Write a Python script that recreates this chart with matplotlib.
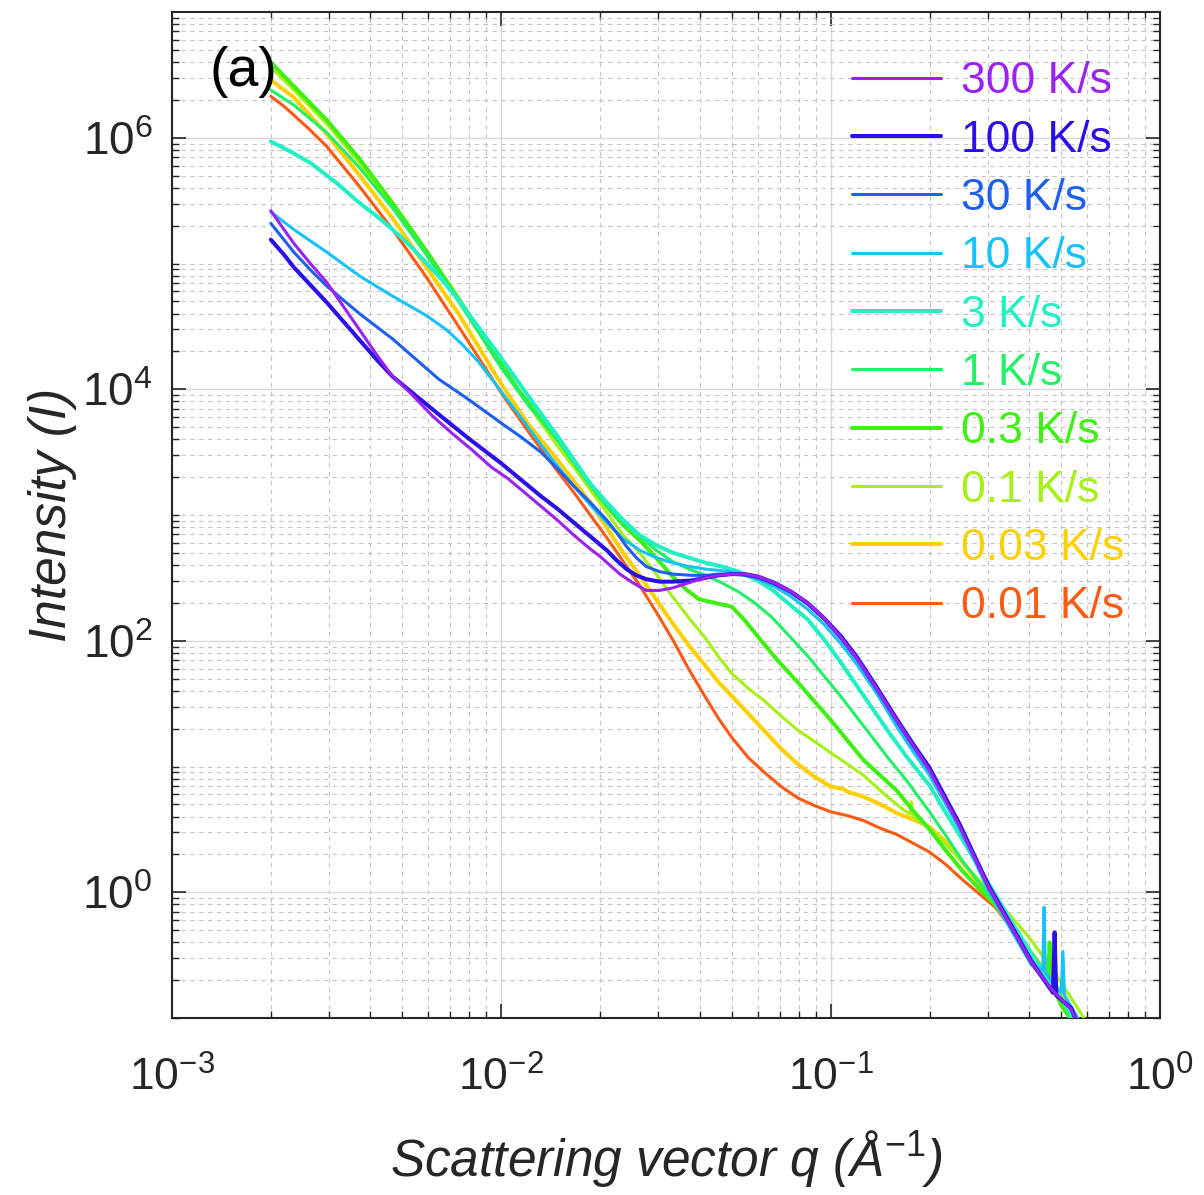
import numpy as np
import matplotlib
matplotlib.use("Agg")
import matplotlib.pyplot as plt
from matplotlib.ticker import FixedLocator, FuncFormatter, NullFormatter

plt.rcParams['font.family'] = ['Liberation Sans', 'DejaVu Sans']
plt.rcParams['mathtext.fontset'] = 'custom'
plt.rcParams['mathtext.rm'] = 'Liberation Sans'
plt.rcParams['mathtext.it'] = 'Liberation Sans:italic'

# ---- data: log10(q) and log10(I) ----
labels = ['300 K/s', '100 K/s', '30 K/s', '10 K/s', '3 K/s', '1 K/s',
          '0.3 K/s', '0.1 K/s', '0.03 K/s', '0.01 K/s']
colors = ['#9b22f2', '#2a10e6', '#1f5fee', '#16c2f8', '#22f0c4', '#22f066',
          '#3ff012', '#a6f014', '#ffd000', '#ff5a12']
widths = [2.2, 2.9, 2.2, 2.2, 2.9, 2.2, 2.9, 2.2, 2.9, 2.2]

lq_300 = [-2.70, -2.66, -2.63, -2.58, -2.53, -2.48, -2.43, -2.38, -2.33, -2.28, -2.21, -2.15, -2.09, -2.03,
          -1.98, -1.93, -1.88, -1.83, -1.78, -1.73, -1.70, -1.67, -1.64, -1.60, -1.56, -1.52, -1.48, -1.42,
          -1.38, -1.34, -1.30, -1.26, -1.22, -1.17, -1.12, -1.07, -1.02, -0.97, -0.92, -0.86, -0.80, -0.75,
          -0.70, -0.61, -0.52, -0.45, -0.39, -0.33, -0.27, -0.25]
lI_300 = [5.42, 5.27, 5.16, 5.00, 4.85, 4.66, 4.47, 4.28, 4.10, 3.98, 3.79, 3.65, 3.52, 3.38,
          3.29, 3.18, 3.07, 2.96, 2.84, 2.73, 2.67, 2.60, 2.53, 2.46, 2.40, 2.40, 2.42, 2.47,
          2.50, 2.52, 2.53, 2.53, 2.51, 2.46, 2.39, 2.30, 2.18, 2.03, 1.86, 1.62, 1.37, 1.17,
          0.97, 0.53, 0.04, -0.28, -0.56, -0.77, -0.93, -1.05]

lq_100 = [-2.70, -2.66, -2.63, -2.58, -2.53, -2.48, -2.43, -2.38, -2.33, -2.26, -2.19, -2.10, -2.00, -1.94,
          -1.88, -1.83, -1.78, -1.73, -1.68, -1.65, -1.62, -1.59, -1.56, -1.52, -1.48, -1.42, -1.38, -1.34,
          -1.30, -1.26, -1.22, -1.17, -1.12, -1.07, -1.02, -0.97, -0.92, -0.86, -0.80, -0.75, -0.70, -0.61,
          -0.52, -0.45, -0.39, -0.325, -0.32, -0.315, -0.27, -0.25]
lI_100 = [5.19, 5.07, 4.97, 4.83, 4.69, 4.54, 4.39, 4.24, 4.10, 3.95, 3.80, 3.61, 3.41, 3.28,
          3.15, 3.05, 2.94, 2.83, 2.72, 2.64, 2.57, 2.52, 2.49, 2.47, 2.47, 2.48, 2.50, 2.52,
          2.53, 2.53, 2.51, 2.46, 2.39, 2.30, 2.18, 2.04, 1.87, 1.63, 1.38, 1.18, 0.99, 0.55,
          0.05, -0.27, -0.55, -0.80, -0.32, -0.82, -0.92, -1.05]

lq_30 = [-2.70, -2.63, -2.58, -2.53, -2.48, -2.43, -2.38, -2.33, -2.26, -2.19, -2.10, -2.00, -1.94, -1.88,
         -1.83, -1.78, -1.73, -1.68, -1.65, -1.62, -1.59, -1.56, -1.52, -1.48, -1.42, -1.38, -1.34, -1.30,
         -1.26, -1.22, -1.17, -1.12, -1.07, -1.02, -0.97, -0.92, -0.86, -0.80, -0.75, -0.70, -0.61, -0.52,
         -0.45, -0.39, -0.33, -0.27, -0.25]
lI_30 = [5.32, 5.09, 4.95, 4.82, 4.71, 4.60, 4.50, 4.40, 4.24, 4.08, 3.92, 3.73, 3.62, 3.50,
         3.37, 3.23, 3.10, 2.96, 2.86, 2.75, 2.66, 2.59, 2.55, 2.53, 2.52, 2.52, 2.53, 2.53,
         2.52, 2.50, 2.45, 2.38, 2.29, 2.17, 2.02, 1.85, 1.61, 1.36, 1.16, 0.97, 0.54, 0.03,
         -0.29, -0.57, -0.78, -0.93, -1.05]

lq_10 = [-2.70, -2.63, -2.53, -2.43, -2.33, -2.23, -2.17, -2.12, -2.07, -2.02, -1.98, -1.93, -1.88, -1.83,
         -1.78, -1.73, -1.68, -1.63, -1.58, -1.53, -1.48, -1.43, -1.38, -1.34, -1.30, -1.26, -1.22, -1.17,
         -1.12, -1.07, -1.02, -0.97, -0.92, -0.86, -0.80, -0.75, -0.70, -0.61, -0.52, -0.45, -0.39, -0.356,
         -0.352, -0.348, -0.30, -0.295, -0.29, -0.26, -0.24]
lI_10 = [5.41, 5.27, 5.09, 4.90, 4.74, 4.59, 4.48, 4.36, 4.22, 4.05, 3.91, 3.74, 3.56, 3.39,
         3.23, 3.08, 2.94, 2.81, 2.72, 2.66, 2.62, 2.59, 2.57, 2.56, 2.55, 2.53, 2.49, 2.43,
         2.35, 2.25, 2.13, 1.98, 1.81, 1.58, 1.32, 1.12, 0.93, 0.51, 0.01, -0.31, -0.58, -0.62,
         -0.12, -0.64, -0.80, -0.47, -0.82, -0.95, -1.05]

lq_3 = [-2.70, -2.64, -2.58, -2.50, -2.43, -2.38, -2.33, -2.28, -2.23, -2.18, -2.13, -2.08, -2.02, -1.96,
        -1.90, -1.83, -1.78, -1.73, -1.68, -1.63, -1.58, -1.53, -1.48, -1.43, -1.38, -1.33, -1.28, -1.23,
        -1.18, -1.13, -1.07, -1.02, -0.97, -0.92, -0.87, -0.82, -0.77, -0.70, -0.65, -0.60, -0.55, -0.50,
        -0.45, -0.40, -0.35, -0.30, -0.26]
lI_3 = [5.97, 5.89, 5.80, 5.64, 5.48, 5.38, 5.27, 5.15, 5.01, 4.87, 4.71, 4.53, 4.32, 4.10,
        3.88, 3.63, 3.44, 3.25, 3.10, 2.96, 2.84, 2.76, 2.70, 2.66, 2.62, 2.59, 2.55, 2.49,
        2.41, 2.30, 2.17, 2.01, 1.83, 1.64, 1.45, 1.26, 1.08, 0.85, 0.63, 0.42, 0.20, -0.02,
        -0.24, -0.45, -0.65, -0.84, -1.02]

lq_1 = [-2.70, -2.63, -2.53, -2.43, -2.33, -2.23, -2.13, -2.06, -2.00, -1.92, -1.83, -1.78, -1.73, -1.68,
        -1.63, -1.58, -1.53, -1.48, -1.43, -1.38, -1.33, -1.28, -1.23, -1.18, -1.13, -1.07, -1.02, -0.97,
        -0.92, -0.87, -0.82, -0.77, -0.70, -0.65, -0.60, -0.55, -0.50, -0.45, -0.40, -0.35, -0.30, -0.26]
lI_1 = [6.38, 6.26, 6.04, 5.76, 5.44, 5.08, 4.70, 4.42, 4.17, 3.88, 3.60, 3.42, 3.24, 3.08,
        2.94, 2.83, 2.72, 2.63, 2.57, 2.52, 2.46, 2.39, 2.30, 2.19, 2.05, 1.88, 1.72, 1.56,
        1.39, 1.22, 1.05, 0.89, 0.64, 0.45, 0.25, 0.08, -0.08, -0.26, -0.45, -0.65, -0.85, -1.02]

lq_03 = [-2.70, -2.63, -2.53, -2.43, -2.33, -2.23, -2.13, -2.02, -1.95, -1.89, -1.83, -1.78, -1.73, -1.68,
         -1.63, -1.58, -1.53, -1.48, -1.44, -1.40, -1.35, -1.30, -1.26, -1.22, -1.16, -1.10, -1.05, -1.00,
         -0.95, -0.90, -0.85, -0.80, -0.75, -0.70, -0.65, -0.60, -0.55, -0.50, -0.45, -0.40, -0.34, -0.335,
         -0.33, -0.30, -0.26]
lI_03 = [6.60, 6.41, 6.14, 5.83, 5.48, 5.11, 4.72, 4.29, 4.00, 3.80, 3.60, 3.42, 3.24, 3.07,
         2.92, 2.80, 2.66, 2.51, 2.41, 2.33, 2.30, 2.27, 2.16, 2.03, 1.84, 1.67, 1.52, 1.37,
         1.21, 1.05, 0.93, 0.81, 0.65, 0.50, 0.33, 0.17, 0.03, -0.10, -0.27, -0.45, -0.68, -0.40,
         -0.70, -0.90, -1.05]

lq_01 = [-2.70, -2.63, -2.53, -2.43, -2.33, -2.23, -2.13, -2.02, -1.92, -1.83, -1.78, -1.73, -1.68, -1.63,
         -1.58, -1.53, -1.48, -1.43, -1.38, -1.34, -1.30, -1.25, -1.20, -1.15, -1.10, -1.05, -1.00, -0.95,
         -0.90, -0.85, -0.80, -0.76, -0.755, -0.75, -0.70, -0.65, -0.60, -0.55, -0.50, -0.45, -0.40, -0.35,
         -0.30, -0.25, -0.22]
lI_01 = [6.56, 6.38, 6.11, 5.80, 5.45, 5.08, 4.70, 4.25, 3.88, 3.55, 3.38, 3.20, 3.02, 2.84,
         2.70, 2.53, 2.35, 2.18, 2.02, 1.87, 1.74, 1.62, 1.52, 1.40, 1.29, 1.20, 1.11, 1.02,
         0.93, 0.81, 0.70, 0.62, 0.72, 0.60, 0.51, 0.38, 0.24, 0.10, -0.05, -0.20, -0.35, -0.53,
         -0.72, -0.92, -1.05]

lq_003 = [-2.70, -2.63, -2.53, -2.43, -2.33, -2.23, -2.13, -2.00, -1.92, -1.83, -1.78, -1.73, -1.68, -1.63,
          -1.58, -1.53, -1.48, -1.43, -1.38, -1.34, -1.30, -1.25, -1.20, -1.15, -1.10, -1.05, -1.00, -0.96,
          -0.95, -0.90, -0.85, -0.80, -0.75, -0.70, -0.65, -0.60, -0.55, -0.50, -0.45, -0.40, -0.35, -0.30,
          -0.26]
lI_003 = [6.46, 6.32, 6.03, 5.70, 5.36, 4.98, 4.60, 4.04, 3.73, 3.44, 3.27, 3.10, 2.90, 2.70,
          2.52, 2.33, 2.14, 1.96, 1.80, 1.67, 1.56, 1.42, 1.28, 1.14, 1.02, 0.92, 0.84, 0.82,
          0.80, 0.76, 0.70, 0.63, 0.58, 0.52, 0.40, 0.24, 0.07, -0.10, -0.28, -0.45, -0.62, -0.80,
          -1.00]

lq_001 = [-2.70, -2.66, -2.63, -2.58, -2.53, -2.43, -2.33, -2.23, -2.13, -2.00, -1.92, -1.83, -1.78, -1.73,
          -1.68, -1.63, -1.58, -1.53, -1.48, -1.43, -1.38, -1.34, -1.30, -1.25, -1.20, -1.15, -1.10, -1.05,
          -1.00, -0.95, -0.90, -0.85, -0.80, -0.75, -0.70, -0.65, -0.60, -0.55, -0.50, -0.45, -0.40, -0.35,
          -0.30, -0.27]
lI_001 = [6.33, 6.25, 6.18, 6.06, 5.93, 5.61, 5.27, 4.90, 4.50, 3.97, 3.67, 3.35, 3.18, 3.00,
          2.82, 2.63, 2.44, 2.23, 2.01, 1.77, 1.55, 1.38, 1.23, 1.07, 0.95, 0.84, 0.75, 0.69,
          0.64, 0.61, 0.57, 0.51, 0.46, 0.39, 0.32, 0.22, 0.10, -0.01, -0.12, -0.29, -0.48, -0.68,
          -0.88, -1.00]

series_q = [lq_300, lq_100, lq_30, lq_10, lq_3, lq_1, lq_03, lq_01, lq_003, lq_001]
series_I = [lI_300, lI_100, lI_30, lI_10, lI_3, lI_1, lI_03, lI_01, lI_003, lI_001]

xlabel_text = 'Scattering vector q (Å$^{\\mathit{-1}}$)'
ylabel_text = 'Intensity (I)'
panel_label = '(a)'

# ---- figure ----
fig = plt.figure(figsize=(12.04, 11.95), dpi=100)
ax = fig.add_axes([172/1204, 1 - 1018/1195, (1160-172)/1204, (1018-12)/1195])

handles = [None]*len(labels)
for i in reversed(range(len(labels))):
    q = 10**np.array(series_q[i])
    I = 10**np.array(series_I[i])
    h, = ax.plot(q, I, color=colors[i], lw=widths[i], label=labels[i],
                 solid_joinstyle='round', solid_capstyle='round', zorder=3+(len(labels)-i)*0.01)
    handles[i] = h

ax.set_xscale('log')
ax.set_yscale('log')
ax.set_xlim(1e-3, 1e0)
ax.set_ylim(1e-1, 1e7)

ax.xaxis.set_major_locator(FixedLocator([1e-3, 1e-2, 1e-1, 1e0]))
ax.xaxis.set_minor_locator(FixedLocator([k*10.0**n for n in range(-3, 0) for k in range(2, 10)]))
ax.yaxis.set_major_locator(FixedLocator([1e0, 1e2, 1e4, 1e6]))
ax.yaxis.set_minor_locator(FixedLocator([k*10.0**n for n in range(-1, 7) for k in range(1, 10)
                                         if not (k == 1 and n in (0, 2, 4, 6))]))
fmt = FuncFormatter(lambda v, p: r'$10^{%d}$' % int(round(np.log10(v))))
ax.xaxis.set_major_formatter(fmt)
ax.yaxis.set_major_formatter(fmt)
ax.xaxis.set_minor_formatter(NullFormatter())
ax.yaxis.set_minor_formatter(NullFormatter())

ax.grid(True, which='major', color='#d8d8d8', lw=1.0, ls='-', zorder=0)
ax.grid(True, which='minor', color='#c4c4c4', lw=0.8, ls=(0, (4, 4)), zorder=0)
ax.set_axisbelow(True)

ax.tick_params(which='both', direction='in', top=True, right=True, colors='#262626')
ax.tick_params(which='major', length=10, width=1.2, labelcolor='#262626')
ax.tick_params(which='minor', length=5, width=1.0)
ax.tick_params(axis='x', which='major', pad=28, labelsize=32)
ax.tick_params(axis='y', which='major', pad=14, labelsize=33)
for s in ax.spines.values():
    s.set_color('#262626')
    s.set_linewidth(1.5)

ax.set_xlabel(xlabel_text, fontsize=37, style='italic', color='#262626', labelpad=20)
ax.set_ylabel(ylabel_text, fontsize=37, style='italic', color='#262626', labelpad=4)

ax.text(0.038, 0.94, panel_label, transform=ax.transAxes, fontsize=40,
        ha='left', va='center', color='black', zorder=10)

leg = ax.legend(handles=handles, loc='upper left', bbox_to_anchor=(0.688, 0.951),
                frameon=False, fontsize=32, handlelength=2.0, handletextpad=0.45,
                labelspacing=0.39, borderaxespad=0, borderpad=0)
for t, c in zip(leg.get_texts(), colors):
    t.set_color(c)

fig.savefig('out.png', dpi=100)
